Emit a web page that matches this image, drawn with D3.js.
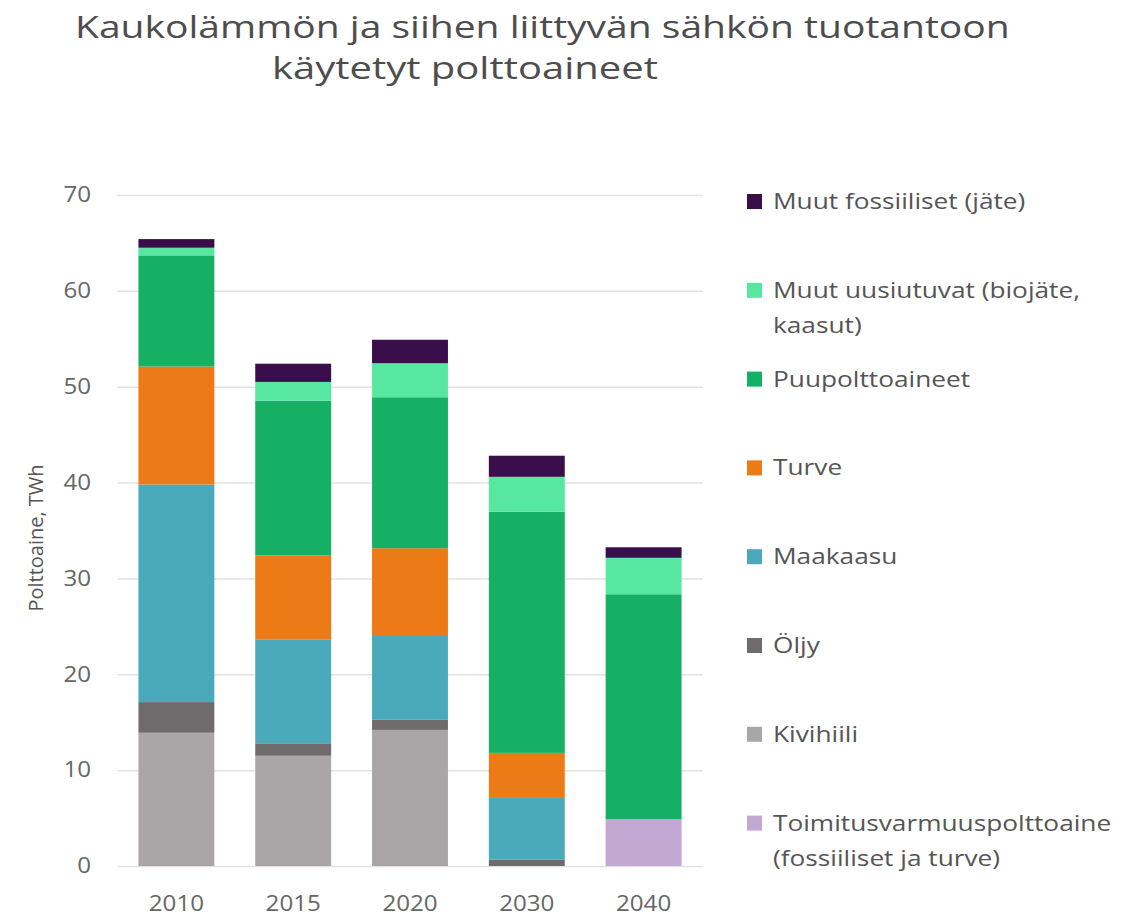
<!DOCTYPE html>
<html>
<head>
<meta charset="utf-8">
<script src="https://cdn.jsdelivr.net/npm/d3@7"></script>
<style>
  body { margin: 0; background: #fff; }
  svg { display: block; font-family: "Open Sans", sans-serif; }
</style>
</head>
<body>
<div id="chart"></div>
<script>
const WIDTH = 1138;
const HEIGHT = 919;

// values, TWh
const years = ["2010", "2015", "2020", "2030", "2040"];
const toimitus = [0, 0, 0, 0, 4.9];
const kivihiili = [13.9, 11.5, 14.2, 0, 0];
const oljy = [3.2, 1.3, 1.05, 0.65, 0];
const maakaasu = [22.7, 10.8, 8.85, 6.45, 0];
const turve = [12.3, 8.8, 9.05, 4.7, 0];
const puu = [11.6, 16.15, 15.75, 25.15, 23.45];
const uusiutuvat = [0.8, 1.95, 3.55, 3.65, 3.8];
const fossiiliset = [0.9, 1.9, 2.45, 2.2, 1.1];
const yTicks = [0, 10, 20, 30, 40, 50, 60, 70];

// stacking order, bottom first
const series = [
  { key: "toimitus", values: toimitus, color: "#c2a7d3", label: ["Toimitusvarmuuspolttoaine", "(fossiiliset ja turve)"] },
  { key: "kivihiili", values: kivihiili, color: "#aaa6a7", label: ["Kivihiili"] },
  { key: "oljy", values: oljy, color: "#6f6a6b", label: ["Öljy"] },
  { key: "maakaasu", values: maakaasu, color: "#4aa9bb", label: ["Maakaasu"] },
  { key: "turve", values: turve, color: "#ec7a16", label: ["Turve"] },
  { key: "puu", values: puu, color: "#16b064", label: ["Puupolttoaineet"] },
  { key: "uusiutuvat", values: uusiutuvat, color: "#57e7a1", label: ["Muut uusiutuvat (biojäte,", "kaasut)"] },
  { key: "fossiiliset", values: fossiiliset, color: "#3a0e4b", label: ["Muut fossiiliset (jäte)"] }
];

const rows = years.map((yr, i) => {
  let r = { year: yr };
  series.forEach(s => { r[s.key] = s.values[i]; });
  return r;
});

// the source picture is a bit stretched sideways, so text gets stretched too
const STRETCH = 1.15;

const svg = d3.select("#chart")
  .append("svg")
  .attr("width", WIDTH)
  .attr("height", HEIGHT);

// title, two lines, each stretched to its width in the original
let titleLine = (txt, x0, y0, targetW) => {
  let t = svg.append("text")
    .attr("x", 0).attr("y", 0)
    .style("fill", "#4d4d4d")
    .style("font-size", "31px")
    .text(txt);
  let w = t.node().getComputedTextLength();
  t.attr("transform", `translate(${x0},${y0}) scale(${targetW / w},1)`);
}
titleLine("Kaukolämmön ja siihen liittyvän sähkön tuotantoon", 75, 38, 935);
titleLine("käytetyt polttoaineet", 272, 79, 386);

const x = d3.scaleBand()
  .domain(years)
  .range([118, 702])
  .paddingInner(0.35)
  .paddingOuter(0.175);

const y = d3.scaleLinear()
  .domain([0, 70])
  .range([866, 195]);

// gridlines
svg.append("g")
  .selectAll("line")
  .data(yTicks)
  .enter()
  .append("line")
  .attr("x1", 117)
  .attr("x2", 703)
  .attr("y1", d => y(d) + 0.5)
  .attr("y2", d => y(d) + 0.5)
  .style("stroke", "#e2e2e2")
  .style("stroke-width", 1.5);

// y axis labels
const yAxis = svg.append("g")
  .attr("transform", "translate(117,0)")
  .call(d3.axisLeft(y).tickValues(yTicks).tickSize(0).tickPadding(26));
yAxis.select(".domain").remove();
yAxis.selectAll("text")
  .attr("x", -26 / STRETCH)
  .attr("transform", `scale(${STRETCH},1)`)
  .style("font-family", "Open Sans, sans-serif")
  .style("font-size", "21px")
  .style("fill", "#666");

// x axis labels
const xAxis = svg.append("g")
  .attr("transform", "translate(0,866)")
  .call(d3.axisBottom(x).tickSize(0).tickPadding(30));
xAxis.select(".domain").remove();
xAxis.selectAll("text")
  .attr("transform", `scale(${STRETCH},1)`)
  .style("font-family", "Open Sans, sans-serif")
  .style("font-size", "21px")
  .style("fill", "#666");

svg.append("text")
  .attr("transform", "translate(43,538) rotate(-90)")
  .attr("text-anchor", "middle")
  .style("font-size", "20px")
  .style("fill", "#555")
  .text("Polttoaine, TWh");

// stacked bars
const stack = d3.stack().keys(series.map(s => s.key));
const layers = stack(rows);

svg.append("g")
  .selectAll("g")
  .data(layers)
  .enter()
  .append("g")
  .style("fill", (d, i) => series[i].color)
  .selectAll("rect")
  .data(d => d)
  .enter()
  .append("rect")
  .attr("x", d => x(d.data.year))
  .attr("width", x.bandwidth())
  .attr("y", d => y(d[1]))
  .attr("height", d => y(d[0]) - y(d[1]));

// legend, top entry first
const legendItems = series.slice().reverse();
const legend = svg.append("g")
  .selectAll("g")
  .data(legendItems)
  .enter()
  .append("g")
  .attr("transform", (d, i) => `translate(747, ${201.5 + i * 88.8})`);

legend.append("rect")
  .attr("x", 0)
  .attr("y", -7.5)
  .attr("width", 15)
  .attr("height", 15)
  .style("fill", d => d.color);

legend.append("text")
  .attr("transform", "translate(26,7.5) scale(1.25,1)")
  .style("font-size", "21px")
  .style("fill", "#555")
  .selectAll("tspan")
  .data(d => d.label)
  .enter()
  .append("tspan")
  .attr("x", 0)
  .attr("dy", (d, i) => i === 0 ? 0 : 35)
  .text(d => d);
</script>
</body>
</html>
